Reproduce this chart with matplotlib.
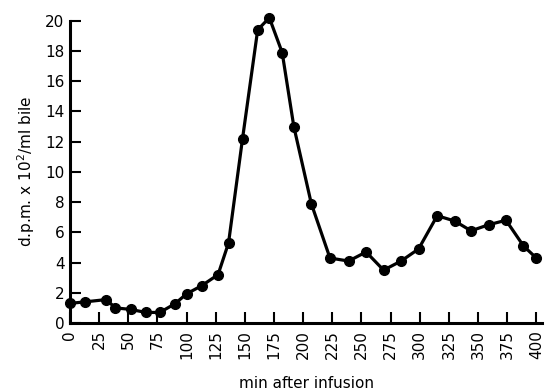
import matplotlib
matplotlib.use('Agg')
import matplotlib.pyplot as plt
import numpy as np

minutes = [0, 13, 31, 39, 52, 65, 77, 90, 100, 113, 127, 136, 148, 161, 171,
           182, 192, 207, 223, 239, 254, 269, 284, 299, 315, 330, 344, 359,
           374, 389, 400]
dpm = [1.3, 1.4, 1.55, 1.0, 0.9, 0.7, 0.7, 1.27, 1.93, 2.47, 3.2, 5.3, 12.2,
       19.4, 20.2, 17.9, 13.0, 7.9, 4.3, 4.1, 4.7, 3.5, 4.1, 4.9, 7.1, 6.75,
       6.1, 6.5, 6.8, 5.1, 4.3]
x_ticks = np.arange(0, 401, 25)
y_ticks = np.arange(0, 21, 2)

fig = plt.figure(figsize=(5.49, 3.92), dpi=100)
ax = fig.add_axes([0.1275, 0.176, 0.86, 0.771])

ax.plot(minutes, dpm, color='black', linewidth=2.3, marker='o',
        markersize=7, markerfacecolor='black', markeredgecolor='black',
        clip_on=False, zorder=3)

ax.set_xlim(0, 405)
ax.set_ylim(0, 20)
ax.spines['top'].set_visible(False)
ax.spines['right'].set_visible(False)
ax.spines['left'].set_linewidth(2.2)
ax.spines['bottom'].set_linewidth(2.2)

ax.set_xticks(x_ticks)
ax.set_xticklabels([str(v) for v in x_ticks], rotation=90, fontsize=11)
ax.set_yticks(y_ticks)
ax.set_yticklabels([str(v) for v in y_ticks], fontsize=11)
ax.tick_params(axis='both', direction='in', length=8, width=1.5,
               color='black')
ax.tick_params(axis='x', pad=5)
ax.tick_params(axis='y', pad=4)

ax.set_xlabel('min after infusion', fontsize=11, labelpad=12)
ax.set_ylabel(r'd.p.m. x 10$^2$/ml bile', fontsize=11, labelpad=6)

plt.savefig('out.png', dpi=100)
